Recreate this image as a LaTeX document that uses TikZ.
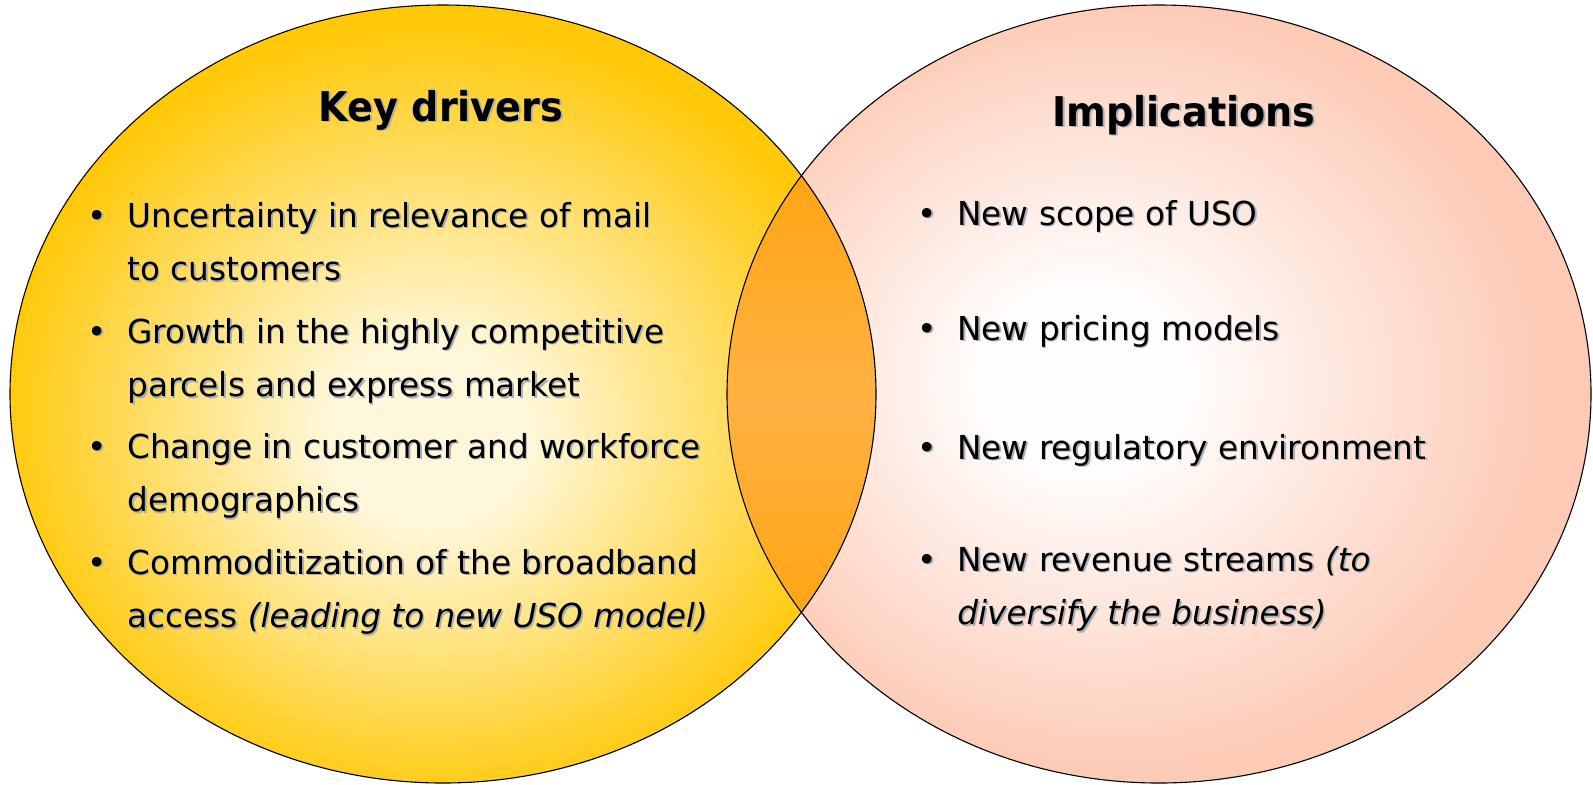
\documentclass[tikz,border=0pt]{standalone}
\usepackage{fontspec}
\setmainfont{DejaVu Sans}[FakeStretch=0.99]
\newfontfamily\headfont{DejaVu Sans}[FakeStretch=0.93]
\definecolor{vdYellow}{HTML}{FFC90A}
\definecolor{vdCream}{HTML}{FFF7D9}
\definecolor{vdPeach}{HTML}{FDCAB5}
\definecolor{vdBlush}{HTML}{FFFDFC}
\definecolor{vdOrange}{HTML}{FFA514}
\definecolor{vdAmber}{HTML}{FFB244}
\definecolor{vdShadow}{HTML}{A9AFB9}
\definecolor{vdInk}{HTML}{000000}

% soft glow inside each set
\pgfdeclareradialshading{driverGlow}{\pgfpoint{-1bp}{-3bp}}{%
  color(0bp)=(vdCream); color(6bp)=(vdCream); color(25bp)=(vdYellow); color(50bp)=(vdYellow)}
\pgfdeclareradialshading{implGlow}{\pgfpoint{-5bp}{1bp}}{%
  color(0bp)=(vdBlush); color(6bp)=(vdBlush); color(25bp)=(vdPeach); color(50bp)=(vdPeach)}

% text with a light drop shadow
\newcommand\shtext[1]{\leavevmode\rlap{\kern0.8pt\raisebox{-0.8pt}{\color{vdShadow}#1}}#1}
\newcommand\bpoint[1]{\shtext{\begin{tabular}[t]{@{}p{20pt}@{}l@{}}\textbullet&#1\end{tabular}}}

\tikzset{
  rim/.style={draw=vdInk,line width=0.55pt},
  setHead/.style={font=\headfont\bfseries\fontsize{20.5}{24}\selectfont,
    text=vdInk,inner sep=0pt,anchor=base},
  setPoint/.style={font=\fontsize{16.5}{26.75}\selectfont,
    text=vdInk,inner sep=0pt,anchor=base west}
}

\begin{document}
\begin{tikzpicture}[x=0.5pt,y=-0.5pt]
\path[use as bounding box,fill=white] (0,0) rectangle (1593,784);
\coordinate (drv) at (443,394);
\coordinate (imp) at (1159,394);

% the two sets
\shade[shading=driverGlow] (drv) ellipse [x radius=433,y radius=389];
\shade[shading=implGlow] (imp) ellipse [x radius=432,y radius=389];
\begin{scope}
  \clip (drv) ellipse [x radius=433,y radius=389];
  \clip (imp) ellipse [x radius=432,y radius=389];
  \shade[top color=vdOrange,bottom color=vdOrange,middle color=vdAmber]
    (727,176) rectangle (876,615);
\end{scope}
\draw[rim] (drv) ellipse [x radius=433,y radius=389];
\draw[rim] (imp) ellipse [x radius=432,y radius=389];

% headings
\node[setHead] (keyHead) at (441,121) {\shtext{Key drivers}};
\node[setHead] (implHead) at (1184,126) {\shtext{Implications}};

% key drivers
\node[setPoint] (drvA) at (87,227) {\bpoint{Uncertainty in relevance of mail\\ & to customers}};
\node[setPoint] (drvB) at (87,343) {\bpoint{Growth in the highly competitive\\ & parcels and express market}};
\node[setPoint] (drvC) at (87,458) {\bpoint{Change in customer and workforce\\ & demographics}};
\node[setPoint] (drvD) at (87,574) {\bpoint{Commoditization of the broadband\\ & access \textit{(leading to new USO model)}}};

% implications
\node[setPoint] (impA) at (917,225) {\bpoint{New scope of USO}};
\node[setPoint] (impB) at (917,340) {\bpoint{New pricing models}};
\node[setPoint] (impC) at (917,459) {\bpoint{New regulatory environment}};
\node[setPoint] (impD) at (917,571) {\bpoint{New revenue streams \textit{(to}\\ & \textit{diversify the business)}}};
\end{tikzpicture}
\end{document}
